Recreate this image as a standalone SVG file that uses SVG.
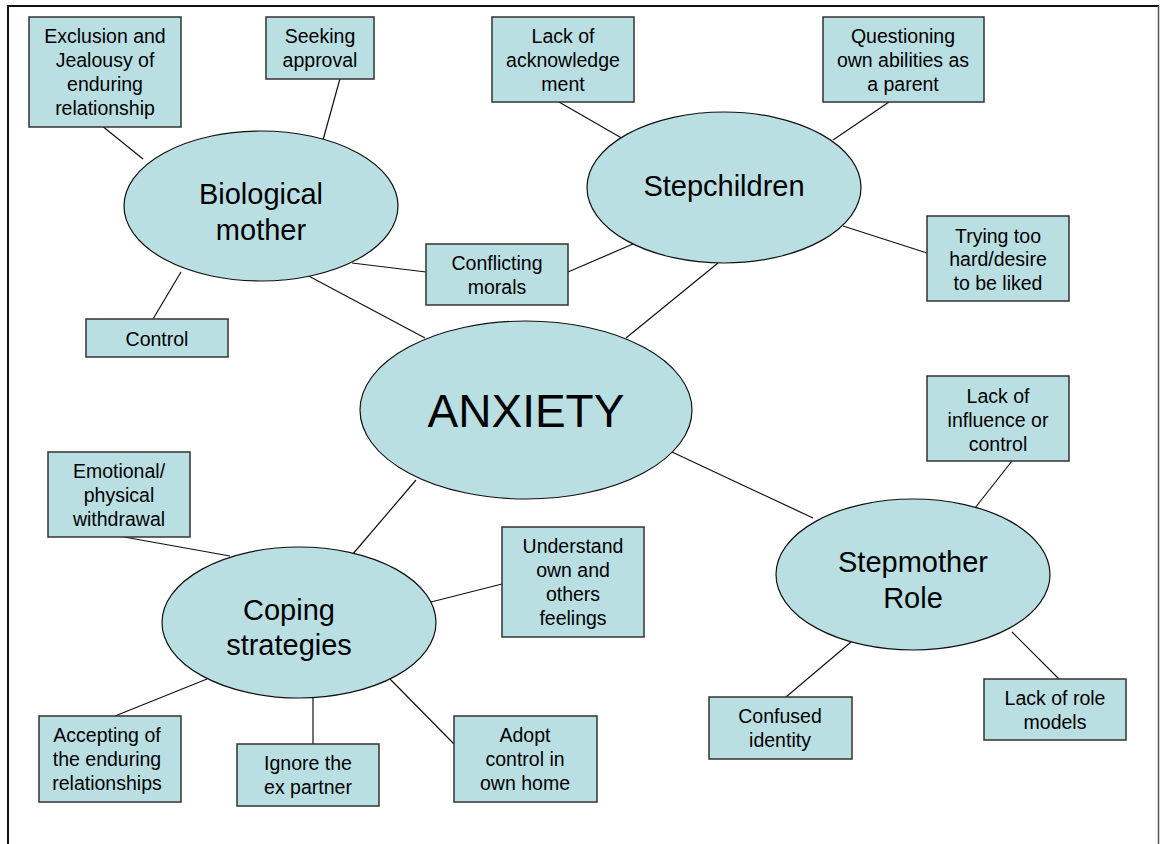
<svg xmlns="http://www.w3.org/2000/svg" width="1160" height="844" viewBox="0 0 1160 844">
<style>
.box{fill:#BADFE2;stroke:#333;stroke-width:1.5}
.ell{fill:#BADFE2;stroke:#111;stroke-width:1.2}
.t{font-family:"Liberation Sans",Arial,sans-serif;font-size:19.5px;fill:#000;text-anchor:middle}
.m{font-family:"Liberation Sans",Arial,sans-serif;font-size:29px;fill:#000;text-anchor:middle}
.big{font-family:"Liberation Sans",Arial,sans-serif;font-size:46px;fill:#000;text-anchor:middle}
.c{stroke:#111;stroke-width:1.2;fill:none}
</style>
<rect width="1160" height="844" fill="#fff"/>
<g id="frame">
<line x1="7" y1="6" x2="1159" y2="6" stroke="#111" stroke-width="2"/>
<line x1="8" y1="6" x2="8" y2="844" stroke="#111" stroke-width="2"/>
<line x1="1158.5" y1="6" x2="1158.5" y2="844" stroke="#555" stroke-width="1.5"/>
</g>
<g id="connectors">
<line class="c" x1="96" y1="121" x2="143" y2="159"/>
<line class="c" x1="341" y1="75" x2="323" y2="140"/>
<line class="c" x1="181" y1="272" x2="153" y2="319"/>
<line class="c" x1="352" y1="263" x2="426" y2="272"/>
<line class="c" x1="303" y1="273" x2="425" y2="338"/>
<line class="c" x1="559" y1="102" x2="625" y2="140"/>
<line class="c" x1="568" y1="272" x2="633" y2="244"/>
<line class="c" x1="626" y1="338" x2="718" y2="263"/>
<line class="c" x1="889" y1="102" x2="833" y2="140"/>
<line class="c" x1="843" y1="226" x2="927" y2="253"/>
<line class="c" x1="124" y1="537" x2="230" y2="556"/>
<line class="c" x1="352" y1="555" x2="416" y2="480"/>
<line class="c" x1="115" y1="716" x2="207" y2="679"/>
<line class="c" x1="313" y1="698" x2="313" y2="744"/>
<line class="c" x1="427" y1="603" x2="502" y2="584"/>
<line class="c" x1="390" y1="679" x2="454" y2="744"/>
<line class="c" x1="672" y1="452" x2="813" y2="518"/>
<line class="c" x1="1012" y1="461" x2="975" y2="508"/>
<line class="c" x1="786" y1="697" x2="851" y2="642"/>
<line class="c" x1="1012" y1="632" x2="1059" y2="679"/>
</g>
<g id="anxiety">
<ellipse class="ell" cx="526" cy="410" rx="166" ry="89"/>
<text class="big" x="526" y="427">ANXIETY</text>
</g>
<g id="biological-mother">
<ellipse class="ell" cx="261" cy="206" rx="137" ry="75"/>
<text class="m" x="261" y="204">Biological</text>
<text class="m" x="261" y="240">mother</text>
</g>
<g id="stepchildren">
<ellipse class="ell" cx="724" cy="187.5" rx="137" ry="75.5"/>
<text class="m" x="724" y="196">Stepchildren</text>
</g>
<g id="coping-strategies">
<ellipse class="ell" cx="299" cy="622.5" rx="137" ry="75.5"/>
<text class="m" x="289" y="620">Coping</text>
<text class="m" x="289" y="655">strategies</text>
</g>
<g id="stepmother-role">
<ellipse class="ell" cx="913" cy="574.5" rx="137" ry="75.5"/>
<text class="m" x="913" y="572">Stepmother</text>
<text class="m" x="913" y="608">Role</text>
</g>
<g id="exclusion">
<rect class="box" x="29" y="17" width="152" height="110"/>
<text class="t" x="105" y="43">Exclusion and</text>
<text class="t" x="105" y="67">Jealousy of</text>
<text class="t" x="105" y="91">enduring</text>
<text class="t" x="105" y="115">relationship</text>
</g>
<g id="seeking-approval">
<rect class="box" x="266" y="17" width="108" height="62"/>
<text class="t" x="320" y="43">Seeking</text>
<text class="t" x="320" y="67">approval</text>
</g>
<g id="control">
<rect class="box" x="86" y="319" width="142" height="38"/>
<text class="t" x="157" y="346">Control</text>
</g>
<g id="lack-acknowledgement">
<rect class="box" x="492" y="17" width="142" height="85"/>
<text class="t" x="563" y="43">Lack of</text>
<text class="t" x="563" y="67">acknowledge</text>
<text class="t" x="563" y="91">ment</text>
</g>
<g id="conflicting-morals">
<rect class="box" x="426" y="244" width="142" height="61"/>
<text class="t" x="497" y="270">Conflicting</text>
<text class="t" x="497" y="294">morals</text>
</g>
<g id="questioning">
<rect class="box" x="823" y="17" width="161" height="85"/>
<text class="t" x="903" y="43">Questioning</text>
<text class="t" x="903" y="67">own abilities as</text>
<text class="t" x="903" y="91">a parent</text>
</g>
<g id="trying-too-hard">
<rect class="box" x="927" y="216" width="142" height="85"/>
<text class="t" x="998" y="243">Trying too</text>
<text class="t" x="998" y="266">hard/desire</text>
<text class="t" x="998" y="290">to be liked</text>
</g>
<g id="lack-influence">
<rect class="box" x="927" y="376" width="142" height="85"/>
<text class="t" x="998" y="403">Lack of</text>
<text class="t" x="998" y="427">influence or</text>
<text class="t" x="998" y="451">control</text>
</g>
<g id="emotional-withdrawal">
<rect class="box" x="48" y="452" width="142" height="85"/>
<text class="t" x="119" y="478">Emotional/</text>
<text class="t" x="119" y="502">physical</text>
<text class="t" x="119" y="526">withdrawal</text>
</g>
<g id="understand-feelings">
<rect class="box" x="502" y="527" width="142" height="110"/>
<text class="t" x="573" y="553">Understand</text>
<text class="t" x="573" y="577">own and</text>
<text class="t" x="573" y="601">others</text>
<text class="t" x="573" y="625">feelings</text>
</g>
<g id="accepting">
<rect class="box" x="39" y="716" width="142" height="86"/>
<text class="t" x="107" y="742">Accepting of</text>
<text class="t" x="107" y="766">the enduring</text>
<text class="t" x="107" y="790">relationships</text>
</g>
<g id="ignore-ex">
<rect class="box" x="237" y="744" width="142" height="62"/>
<text class="t" x="308" y="770">Ignore the</text>
<text class="t" x="308" y="794">ex partner</text>
</g>
<g id="adopt-control">
<rect class="box" x="454" y="716" width="143" height="86"/>
<text class="t" x="525" y="742">Adopt</text>
<text class="t" x="525" y="766">control in</text>
<text class="t" x="525" y="790">own home</text>
</g>
<g id="confused-identity">
<rect class="box" x="709" y="697" width="143" height="62"/>
<text class="t" x="780" y="723">Confused</text>
<text class="t" x="780" y="747">identity</text>
</g>
<g id="lack-role-models">
<rect class="box" x="984" y="679" width="142" height="61"/>
<text class="t" x="1055" y="705">Lack of role</text>
<text class="t" x="1055" y="729">models</text>
</g>
</svg>
